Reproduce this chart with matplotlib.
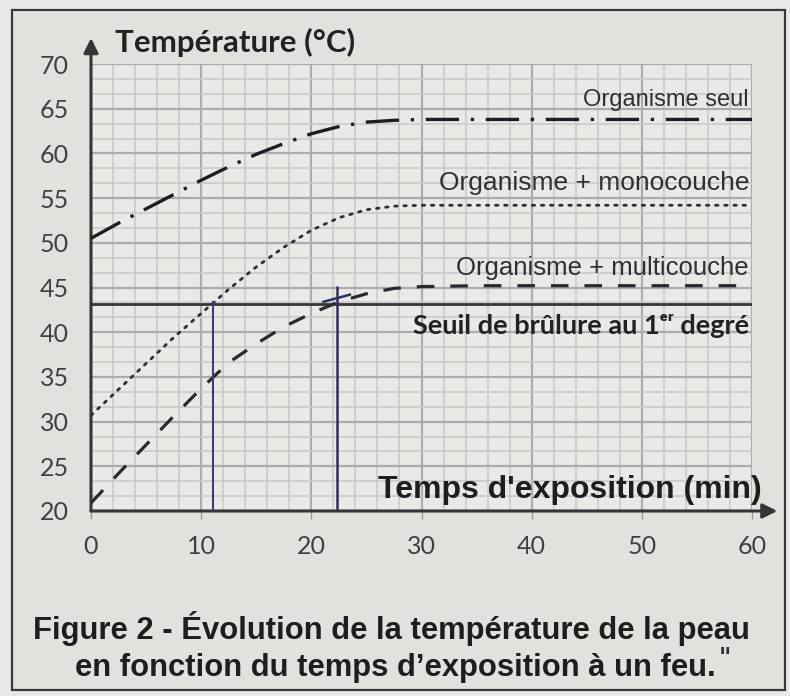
import numpy as np
import matplotlib.pyplot as plt
from matplotlib.patches import Rectangle
from matplotlib.ticker import MultipleLocator

# ==========================================
# DATA
# ==========================================
temps = [0, 2.5, 5, 7.5, 10, 12.5, 15, 17.5, 20, 22.5, 25, 27.5, 30, 35, 40, 50, 60]
organisme_seul = [50.5, 52.2, 53.8, 55.4, 57.0, 58.5, 59.9, 61.1, 62.2, 63.0, 63.5, 63.7, 63.8, 63.8, 63.8, 63.8, 63.8]
monocouche = [30.7, 33.6, 36.5, 39.4, 42.1, 44.8, 47.3, 49.5, 51.4, 52.8, 53.7, 54.1, 54.2, 54.2, 54.2, 54.2, 54.2]
multicouche = [20.9, 24.2, 27.4, 30.6, 33.7, 36.6, 38.7, 40.6, 42.1, 43.4, 44.3, 44.9, 45.1, 45.2, 45.2, 45.2, 45.2]
seuil = 43.2
temps_lus = [11.1, 22.3]   # hand-drawn reading lines (blue pen)
x_ticks = [0, 10, 20, 30, 40, 50, 60]
y_ticks = [20, 25, 30, 35, 40, 45, 50, 55, 60, 65, 70]

W, H = 790, 696
DARK = '#353535'
NARROW = ['Liberation Sans Narrow', 'Liberation Sans', 'DejaVu Sans']

fig = plt.figure(figsize=(W / 100, H / 100), dpi=100, facecolor='#e9e9e7')

# outer frame of the figure box
fig.patches.append(Rectangle((12 / W, 1 - 690 / H), (785 - 12) / W, (690 - 10) / H,
                             transform=fig.transFigure, facecolor='#e1e1de',
                             edgecolor='#3a3a3a', lw=1.6, zorder=-5))

ax = fig.add_axes([91 / W, 1 - 511 / H, (752 - 91) / W, (511 - 64) / H])
ax.set_zorder(2)
ax.set_facecolor('#e9e9e6')
ax.set_xlim(0, 60)
ax.set_ylim(20, 70)

# graph-paper grid
ax.xaxis.set_major_locator(MultipleLocator(10))
ax.xaxis.set_minor_locator(MultipleLocator(2))
ax.yaxis.set_major_locator(MultipleLocator(5))
ax.yaxis.set_minor_locator(MultipleLocator(5 / 3))
ax.grid(which='major', color='#acacac', lw=1.6, zorder=1)
ax.grid(which='minor', color='#c8c8c6', lw=1.1, zorder=1)
ax.set_axisbelow(True)

for s in ax.spines.values():
    s.set_visible(False)

ax.set_xticks(x_ticks)
ax.set_yticks(y_ticks)
ax.set_xticklabels([str(v) for v in x_ticks])
ax.set_yticklabels([str(v) for v in y_ticks])
ax.tick_params(axis='x', which='major', length=6, width=1, color='#9a9a9a', pad=11,
               labelsize=18, labelcolor='#404040')
ax.tick_params(axis='y', which='major', length=0, pad=16, labelsize=18, labelcolor='#404040')
ax.tick_params(which='minor', length=0)
for lab in ax.get_xticklabels() + ax.get_yticklabels():
    lab.set_family('Lato')

# curves
ax.plot(temps, organisme_seul, color='#1e1e1e', lw=2.4, ls=(0, (10, 3.5, 1, 3.5)), zorder=4)
ax.plot(temps, monocouche, color='#303030', lw=2.0, ls=(0, (0.9, 2.4)),
        dash_capstyle='round', zorder=4)
ax.plot(temps, multicouche, color='#2a2a2a', lw=2.3, ls=(0, (5.5, 5)), zorder=4)
ax.axhline(seuil, color=DARK, lw=2.0, zorder=3)

# blue pen lines
ax.vlines(temps_lus[0], 20, seuil + 0.3, color='#3d3d7a', lw=1.5, zorder=5)
ax.vlines(temps_lus[1], 20, seuil + 2.0, color='#2e2e66', lw=1.8, zorder=5)
ax.plot([temps_lus[1] - 1.2, temps_lus[1] + 1.2], [seuil + 0.2, seuil + 1.0],
        color='#2e2e66', lw=1.8, zorder=5)

# axes with arrows
ax.annotate('', xy=(0, 72.9), xytext=(0, 20), annotation_clip=False,
            arrowprops=dict(arrowstyle='-|>', lw=2.2, color=DARK, mutation_scale=22,
                            shrinkA=0, shrinkB=0))
ax.annotate('', xy=(62.3, 20), xytext=(0, 20), annotation_clip=False,
            arrowprops=dict(arrowstyle='-|>', lw=2.2, color=DARK, mutation_scale=22,
                            shrinkA=0, shrinkB=0))

# curve labels
ax.text(59.7, 66.0, 'Organisme seul', ha='right', va='center', fontsize=17,
        family='Liberation Sans', color='#303030', zorder=6)
ax.text(59.8, 56.7, 'Organisme + monocouche', ha='right', va='center', fontsize=19,
        family='Liberation Sans', color='#303030', zorder=6)
ax.text(59.7, 47.2, 'Organisme + multicouche', ha='right', va='center', fontsize=18.5,
        family='Liberation Sans', color='#303030', zorder=6)
ax.text(59.7, 40.7, 'Seuil de brûlure au 1\u1d49\u02b3 degré', ha='right', va='center',
        fontsize=19.5, fontweight='bold', family=['Lato', 'DejaVu Sans'], color='#222222',
        zorder=6)

# axis titles
fig.text(115 / W, 1 - 42 / H, 'Température (°C)', ha='left', va='center', fontsize=22.5,
         fontweight='bold', family='Lato', color='#222222')
fig.text(762 / W, 1 - 490 / H, "Temps d'exposition (min)", ha='right', va='center',
         fontsize=23, fontweight='bold', family=NARROW, color='#1e1e1e')

# caption
fig.text(391 / W, 1 - 628 / H, 'Figure 2 - Évolution de la température de la peau',
         ha='center', va='center', fontsize=22.3, fontweight='bold', family=NARROW,
         color='#1e1e1e')
fig.text(395 / W, 1 - 668 / H, 'en fonction du temps d\u2019exposition à un feu.',
         ha='center', va='center', fontsize=22.3, fontweight='bold', family=NARROW,
         color='#1e1e1e')
fig.text(719 / W, 1 - 658 / H, '"', ha='left', va='center', fontsize=17,
         fontweight='bold', family='DejaVu Sans', color='#333333')

fig.savefig('out.png', dpi=100, facecolor=fig.get_facecolor())
